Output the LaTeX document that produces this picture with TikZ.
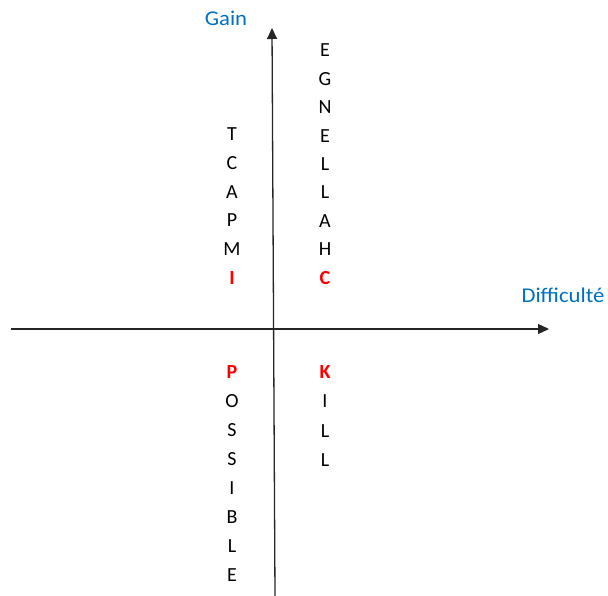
\documentclass[tikz,border=0pt]{standalone}
\usepackage{fontspec}
\setmainfont{Carlito}
\usetikzlibrary{arrows.meta}
\definecolor{axisblue}{RGB}{0,112,192}
\definecolor{letterred}{RGB}{255,0,0}
\tikzset{
  letter/.style={anchor=base, inner sep=0pt, font=\fontsize{20}{24}\selectfont},
  redletter/.style={anchor=base, inner sep=0pt, text=letterred, font=\fontsize{20}{24}\selectfont\bfseries},
  axislabel/.style={anchor=base, inner sep=0pt, text=axisblue, font=\fontsize{21}{24}\selectfont, xscale=1.08},
  axis/.style={line width=1.3pt, draw=black!85, -{Triangle[length=11pt,width=10pt]}}
}
\begin{document}
\begin{tikzpicture}[x=1pt,y=-1pt]
\useasboundingbox (0,0) rectangle (608,596);
\coordinate (xs) at (11,329);
\coordinate (xe) at (549,329);
\coordinate (ys) at (275,596);
\coordinate (ye) at (272,28);
\draw[axis] (xs) -- (xe);
\draw[axis] (ys) -- (ye);
\node[axislabel] (gain) at (226,26) {Gain};
\node[axislabel] (diff) at (563,302) {Difficulté};
% CHALLENGE (reversed)
\foreach \l [count=\i from 0] in {E,G,N,E,L,L,A,H}
  \node[letter] (ch\i) at (325,57+28.4*\i) {\l};
\node[redletter] (chC) at (325,284.5) {C};
% IMPACT (reversed)
\foreach \l [count=\i from 0] in {T,C,A,P,M}
  \node[letter] (im\i) at (232,141+28.6*\i) {\l};
\node[redletter] (imI) at (232,284.5) {I};
% POSSIBLE
\node[redletter] (poP) at (232,378.5) {P};
\foreach \l [count=\i from 1] in {O,S,S,I,B,L,E}
  \node[letter] (po\i) at (232,378.5+29*\i) {\l};
% KILL
\node[redletter] (kiK) at (325,378.5) {K};
\foreach \l [count=\i from 1] in {I,L,L}
  \node[letter] (ki\i) at (325,378.5+29.3*\i) {\l};
\end{tikzpicture}
\end{document}
